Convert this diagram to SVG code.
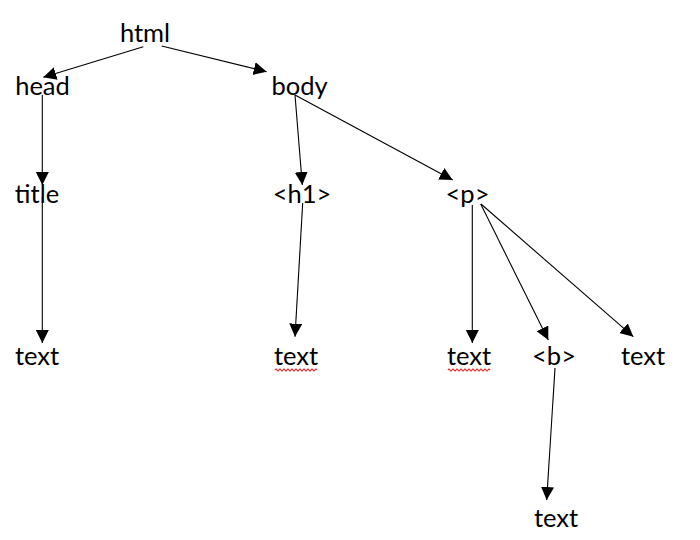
<svg xmlns="http://www.w3.org/2000/svg" width="700" height="540" viewBox="0 0 700 540">
  <defs>
    <style>
      .lbl { font-family: Lato, "Liberation Sans", sans-serif; font-size: 25.5px; fill: #000; text-anchor: middle; }
      .edge { stroke: #000; stroke-width: 1.1; fill: none; marker-end: url(#arrow); }
      .squig { stroke: #e02020; stroke-width: 1.1; fill: none; }
    </style>
    <marker id="arrow" markerUnits="userSpaceOnUse" markerWidth="14" markerHeight="14" refX="13" refY="6.5" orient="auto">
      <path d="M0,0 L13,6.5 L0,13 Z" fill="#000"/>
    </marker>
  </defs>
  <rect width="700" height="540" fill="#fff"/>
  <g id="connectors">
    <line class="edge" x1="143.3" y1="46.7" x2="43.3" y2="77.3"/>
    <line class="edge" x1="161.7" y1="46" x2="266.7" y2="71.7"/>
    <line class="edge" x1="42.3" y1="95" x2="42.3" y2="185"/>
    <line class="edge" x1="42.3" y1="197" x2="42.3" y2="343"/>
    <line class="edge" x1="295" y1="95" x2="302.3" y2="185"/>
    <line class="edge" x1="295" y1="95" x2="452.7" y2="180"/>
    <line class="edge" x1="302.7" y1="203" x2="295" y2="336.7"/>
    <line class="edge" x1="472.3" y1="205" x2="472.3" y2="343"/>
    <line class="edge" x1="480.7" y1="204" x2="548.3" y2="340"/>
    <line class="edge" x1="481" y1="204" x2="633.3" y2="336.7"/>
    <line class="edge" x1="555" y1="368" x2="546.7" y2="500"/>
  </g>
  <g id="n-html"><text class="lbl" x="145" y="42">html</text></g>
  <g id="n-head"><text class="lbl" x="42.5" y="95">head</text></g>
  <g id="n-body"><text class="lbl" x="299.5" y="95">body</text></g>
  <g id="n-title"><text class="lbl" x="37" y="203">title</text></g>
  <g id="n-h1"><text class="lbl" x="302" y="203">&lt;h1&gt;</text></g>
  <g id="n-p"><text class="lbl" x="467.5" y="203">&lt;p&gt;</text></g>
  <g id="n-text1"><text class="lbl" x="37" y="365">text</text></g>
  <g id="n-text2">
    <text class="lbl" x="296" y="365">text</text>
    <path class="squig" d="M275,370 q1,-2 2,0 t2,0 t2,0 t2,0 t2,0 t2,0 t2,0 t2,0 t2,0 t2,0 t2,0 t2,0 t2,0 t2,0 t2,0 t2,0 t2,0 t2,0 t2,0 t2,0 t2,0"/>
  </g>
  <g id="n-text3">
    <text class="lbl" x="469" y="365">text</text>
    <path class="squig" d="M448,370 q1,-2 2,0 t2,0 t2,0 t2,0 t2,0 t2,0 t2,0 t2,0 t2,0 t2,0 t2,0 t2,0 t2,0 t2,0 t2,0 t2,0 t2,0 t2,0 t2,0 t2,0 t2,0"/>
  </g>
  <g id="n-b"><text class="lbl" x="554" y="365">&lt;b&gt;</text></g>
  <g id="n-text5"><text class="lbl" x="643" y="365">text</text></g>
  <g id="n-text6"><text class="lbl" x="556" y="527">text</text></g>
</svg>
